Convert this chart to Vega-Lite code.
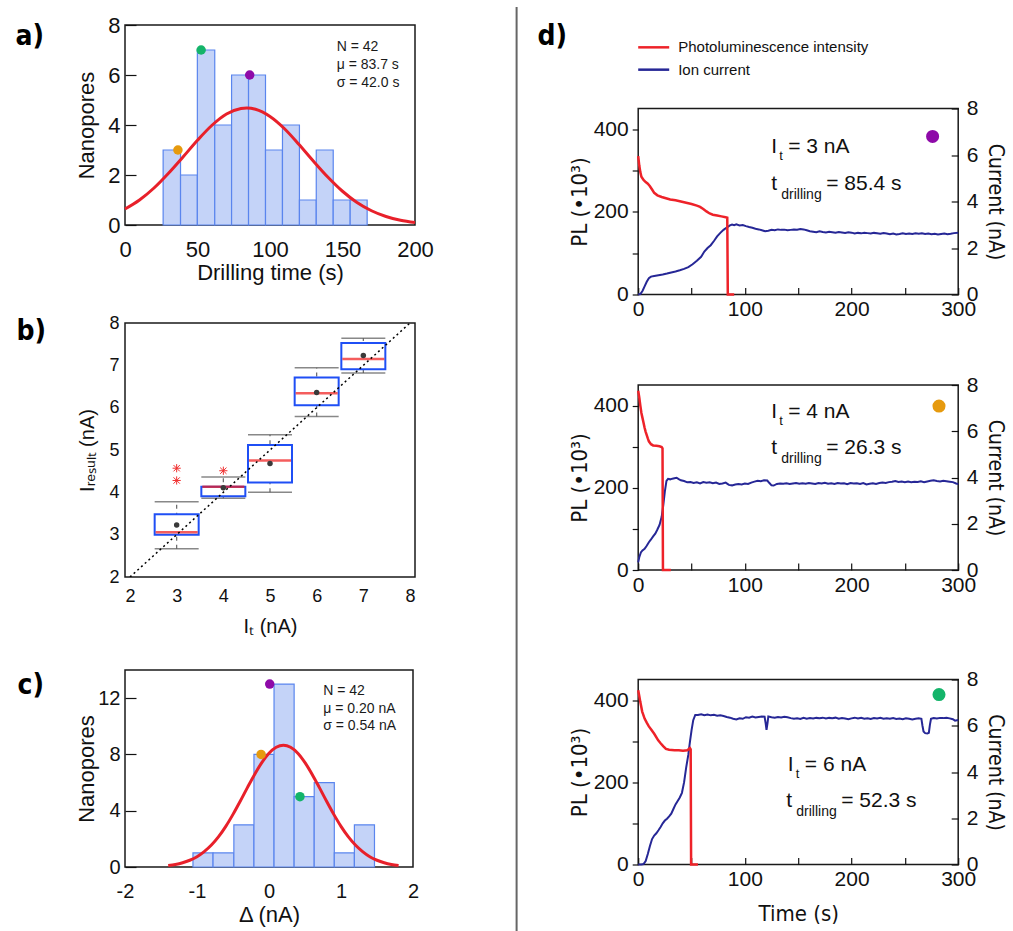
{
"$schema": "https://vega.github.io/schema/vega-lite/v6.json",
"padding": {"left": 14, "top": 5, "right": 0, "bottom": 0},
"config": {
  "font": "Liberation Sans",
  "view": {"stroke": "#1a1a1a", "strokeWidth": 1.5},
  "axis": {"domain": false, "grid": false, "labelColor": "#111", "titleColor": "#111", "titleFontWeight": "normal", "tickColor": "#111", "tickWidth": 1.2, "labelFont": "Liberation Sans", "titleFont": "Liberation Sans"}
},
"resolve": {"scale": {"color": "independent"}, "legend": {"color": "independent"}},
"spacing": 19.6,
"hconcat": [
{
 "spacing": 29,
 "vconcat": [
  {
   "width": 290, "height": 200,
   "title": {"text": "a)", "orient": "left", "anchor": "end", "frame": "group", "angle": 0, "align": "left", "baseline": "alphabetic", "dy": 20, "offset": 31, "fontSize": 28, "font": "Liberation Sans Narrow, DejaVu Sans Condensed, Liberation Sans", "fontWeight": "bold", "color": "black"},
   "layer": [
    {"data": {"values": [
      {"x0": 26.3, "x1": 38.3, "n": 3}, {"x0": 38.3, "x1": 49.9, "n": 2}, {"x0": 49.9, "x1": 61.9, "n": 7},
      {"x0": 61.9, "x1": 73.5, "n": 4}, {"x0": 73.5, "x1": 85.2, "n": 6}, {"x0": 85.2, "x1": 96.9, "n": 6},
      {"x0": 96.9, "x1": 108.6, "n": 3}, {"x0": 108.6, "x1": 120.3, "n": 4}, {"x0": 120.3, "x1": 131.9, "n": 1},
      {"x0": 131.9, "x1": 143.6, "n": 3}, {"x0": 143.6, "x1": 155.3, "n": 1}, {"x0": 155.3, "x1": 167, "n": 1}]},
     "mark": {"type": "bar", "fill": "#c4d3f8", "stroke": "#5a85ee", "strokeWidth": 1.2},
     "encoding": {
      "x": {"field": "x0", "type": "quantitative", "scale": {"domain": [0, 200], "nice": false},
            "axis": {"values": [0, 50, 100, 150, 200], "ticks": false, "labelFontSize": 22, "labelPadding": 14, "labelFlush": false, "title": "Drilling time (s)", "titleFontSize": 22, "titlePadding": 2}},
      "x2": {"field": "x1"},
      "y": {"field": "n", "type": "quantitative", "scale": {"domain": [0, 8], "nice": false},
            "axis": {"values": [0, 1, 2, 3, 4, 5, 6, 7, 8], "labelExpr": "datum.value % 2 === 0 ? datum.label : ''", "tickSize": {"condition": {"test": "datum.value % 2 === 0", "value": -11}, "value": -6}, "labelPadding": 16, "labelFontSize": 22, "title": "Nanopores", "titleFontSize": 22, "titlePadding": 7, "minExtent": 20, "maxExtent": 20}},
      "y2": {"datum": 0}
     }},
    {"data": {"values": [
      {"x": 0, "y": 0.64}, {"x": 10, "y": 1.0}, {"x": 20, "y": 1.48}, {"x": 30, "y": 2.07}, {"x": 40, "y": 2.72},
      {"x": 50, "y": 3.39}, {"x": 60, "y": 3.99}, {"x": 70, "y": 4.44}, {"x": 80, "y": 4.66}, {"x": 84, "y": 4.68},
      {"x": 90, "y": 4.63}, {"x": 100, "y": 4.34}, {"x": 110, "y": 3.85}, {"x": 120, "y": 3.22}, {"x": 130, "y": 2.55},
      {"x": 140, "y": 1.91}, {"x": 150, "y": 1.35}, {"x": 160, "y": 0.9}, {"x": 170, "y": 0.57}, {"x": 180, "y": 0.34},
      {"x": 190, "y": 0.19}, {"x": 200, "y": 0.1}]},
     "mark": {"type": "line", "color": "#e8202a", "strokeWidth": 3, "interpolate": "monotone"},
     "encoding": {"x": {"field": "x", "type": "quantitative"}, "y": {"field": "y", "type": "quantitative"}}},
    {"data": {"values": [{"t": 86, "n": 6, "It": "3 nA"}, {"t": 36.5, "n": 3, "It": "4 nA"}, {"t": 52.5, "n": 7, "It": "6 nA"}]},
     "mark": {"type": "circle", "size": 90, "opacity": 1},
     "encoding": {"x": {"field": "t", "type": "quantitative"}, "y": {"field": "n", "type": "quantitative"},
      "color": {"field": "It", "type": "nominal", "scale": {"domain": ["3 nA", "4 nA", "6 nA"], "range": ["#8e0aa8", "#e69a0e", "#14b46a"]}, "legend": null}}},
    {"data": {"values": [{"x": 146, "y": 7.11, "label": "N = 42"}, {"x": 146, "y": 6.4, "label": "μ = 83.7 s"}, {"x": 146, "y": 5.69, "label": "σ = 42.0 s"}]},
     "mark": {"type": "text", "align": "left", "baseline": "middle", "fontSize": 14, "color": "#1a1a1a"},
     "encoding": {"x": {"field": "x", "type": "quantitative"}, "y": {"field": "y", "type": "quantitative"}, "text": {"field": "label"}}}
   ]
  },
  {
   "spacing": 32,
   "vconcat": [
    {
     "width": 290, "height": 254,
     "title": {"text": "b)", "orient": "left", "anchor": "end", "frame": "group", "angle": 0, "align": "left", "baseline": "alphabetic", "dy": 17, "offset": 31, "fontSize": 28, "font": "Liberation Sans Narrow, DejaVu Sans Condensed, Liberation Sans", "fontWeight": "bold", "color": "black"},
     "layer": [
      {"data": {"name": "boxes", "values": [
        {"It": 3, "lo": 2.67, "q1": 3.0, "med": 3.06, "q3": 3.48, "hi": 3.78, "mean": 3.23},
        {"It": 4, "lo": 3.86, "q1": 3.91, "med": 4.13, "q3": 4.13, "hi": 4.36, "mean": 4.11},
        {"It": 5, "lo": 4.0, "q1": 4.23, "med": 4.75, "q3": 5.12, "hi": 5.36, "mean": 4.68},
        {"It": 6, "lo": 5.79, "q1": 6.06, "med": 6.34, "q3": 6.71, "hi": 6.94, "mean": 6.36},
        {"It": 7, "lo": 6.82, "q1": 6.91, "med": 7.15, "q3": 7.53, "hi": 7.64, "mean": 7.23}]},
       "mark": {"type": "rule", "color": "#666", "strokeDash": [4, 4], "strokeWidth": 1.2},
       "encoding": {
        "x": {"field": "It", "type": "quantitative", "scale": {"domain": [2, 8], "nice": false},
              "axis": {"values": [2, 3, 4, 5, 6, 7, 8], "ticks": false, "labelFontSize": 18, "labelPadding": 10, "labelFlush": false, "title": "Iₜ (nA)", "titleFontSize": 20, "titlePadding": 11}},
        "y": {"field": "lo", "type": "quantitative", "scale": {"domain": [2, 8], "nice": false},
              "axis": {"values": [2, 3, 4, 5, 6, 7, 8], "ticks": false, "labelFontSize": 18, "labelPadding": 6, "title": "Iᵣₑₛᵤₗₜ (nA)", "titleFontSize": 20, "titlePadding": 8, "minExtent": 20, "maxExtent": 20}},
        "y2": {"field": "hi"}
       }},
      {"data": {"name": "boxes"}, "mark": {"type": "tick", "orient": "horizontal", "size": 44, "thickness": 1.5, "color": "#555"},
       "encoding": {"x": {"field": "It", "type": "quantitative"}, "y": {"field": "lo", "type": "quantitative"}}},
      {"data": {"name": "boxes"}, "mark": {"type": "tick", "orient": "horizontal", "size": 44, "thickness": 1.5, "color": "#555"},
       "encoding": {"x": {"field": "It", "type": "quantitative"}, "y": {"field": "hi", "type": "quantitative"}}},
      {"data": {"name": "boxes"}, "mark": {"type": "bar", "width": 44, "fill": "white", "stroke": "#1f4ff5", "strokeWidth": 2},
       "encoding": {"x": {"field": "It", "type": "quantitative"}, "y": {"field": "q1", "type": "quantitative"}, "y2": {"field": "q3"}}},
      {"data": {"name": "boxes"}, "mark": {"type": "tick", "orient": "horizontal", "size": 42, "thickness": 2.5, "color": "#f01818"},
       "encoding": {"x": {"field": "It", "type": "quantitative"}, "y": {"field": "med", "type": "quantitative"}}},
      {"data": {"values": [{"x": 2, "y": 2}, {"x": 8, "y": 8}]}, "mark": {"type": "line", "color": "black", "strokeDash": [2, 3], "strokeWidth": 1.5, "clip": true},
       "encoding": {"x": {"field": "x", "type": "quantitative"}, "y": {"field": "y", "type": "quantitative"}}},
      {"data": {"name": "boxes"}, "mark": {"type": "circle", "size": 30, "color": "#3a3a3a", "opacity": 1},
       "encoding": {"x": {"field": "It", "type": "quantitative"}, "y": {"field": "mean", "type": "quantitative"}}},
      {"data": {"values": [{"It": 3, "v": 4.57}, {"It": 3, "v": 4.28}, {"It": 4, "v": 4.51}]},
       "mark": {"type": "point", "shape": "M-1,-1L1,1M-1,1L1,-1M0,-1.3L0,1.3M-1.3,0L1.3,0", "size": 40, "color": "#f03030", "strokeWidth": 1, "filled": false, "opacity": 1},
       "encoding": {"x": {"field": "It", "type": "quantitative"}, "y": {"field": "v", "type": "quantitative"}}}
     ]
    },
    {
     "width": 288, "height": 197,
     "title": {"text": "c)", "orient": "left", "anchor": "end", "frame": "group", "angle": 0, "align": "left", "baseline": "alphabetic", "dy": 24, "offset": 31, "fontSize": 28, "font": "Liberation Sans Narrow, DejaVu Sans Condensed, Liberation Sans", "fontWeight": "bold", "color": "black"},
     "layer": [
      {"data": {"values": [
        {"x0": -1.056, "x1": -0.777, "n": 1}, {"x0": -0.777, "x1": -0.488, "n": 1}, {"x0": -0.488, "x1": -0.209, "n": 3},
        {"x0": -0.209, "x1": 0.07, "n": 8}, {"x0": 0.07, "x1": 0.349, "n": 13}, {"x0": 0.349, "x1": 0.628, "n": 5},
        {"x0": 0.628, "x1": 0.907, "n": 6}, {"x0": 0.907, "x1": 1.186, "n": 1}, {"x0": 1.186, "x1": 1.465, "n": 3}]},
       "mark": {"type": "bar", "fill": "#c4d3f8", "stroke": "#5a85ee", "strokeWidth": 1.2},
       "encoding": {
        "x": {"field": "x0", "type": "quantitative", "scale": {"domain": [-2, 2], "nice": false},
              "axis": {"values": [-2, -1, 0, 1, 2], "labelExpr": "'' + datum.value", "ticks": false, "labelFontSize": 20, "labelPadding": 14, "labelFlush": false, "title": "Δ (nA)", "titleFontSize": 22, "titlePadding": 3}},
        "x2": {"field": "x1"},
        "y": {"field": "n", "type": "quantitative", "scale": {"domain": [0, 14], "nice": false},
              "axis": {"values": [0, 2, 4, 6, 8, 10, 12, 14], "labelExpr": "datum.value % 4 === 0 ? datum.label : ''", "tickSize": {"condition": {"test": "datum.value % 4 === 0", "value": -11}, "value": -6}, "labelPadding": 16, "labelFontSize": 20, "title": "Nanopores", "titleFontSize": 22, "titlePadding": 7, "minExtent": 20, "maxExtent": 20}},
        "y2": {"datum": 0}
       }},
      {"data": {"values": [
        {"x": -1.4, "y": 0.11}, {"x": -1.3, "y": 0.18}, {"x": -1.2, "y": 0.3}, {"x": -1.1, "y": 0.48}, {"x": -1.0, "y": 0.73},
        {"x": -0.9, "y": 1.09}, {"x": -0.8, "y": 1.56}, {"x": -0.7, "y": 2.16}, {"x": -0.6, "y": 2.89}, {"x": -0.5, "y": 3.74},
        {"x": -0.4, "y": 4.67}, {"x": -0.3, "y": 5.64}, {"x": -0.2, "y": 6.58}, {"x": -0.1, "y": 7.42}, {"x": 0.0, "y": 8.09},
        {"x": 0.1, "y": 8.51}, {"x": 0.2, "y": 8.66}, {"x": 0.3, "y": 8.51}, {"x": 0.4, "y": 8.09}, {"x": 0.5, "y": 7.42},
        {"x": 0.6, "y": 6.58}, {"x": 0.7, "y": 5.64}, {"x": 0.8, "y": 4.67}, {"x": 0.9, "y": 3.74}, {"x": 1.0, "y": 2.89},
        {"x": 1.1, "y": 2.16}, {"x": 1.2, "y": 1.56}, {"x": 1.3, "y": 1.09}, {"x": 1.4, "y": 0.73}, {"x": 1.5, "y": 0.48},
        {"x": 1.6, "y": 0.3}, {"x": 1.7, "y": 0.18}, {"x": 1.8, "y": 0.11}]},
       "mark": {"type": "line", "color": "#e8202a", "strokeWidth": 3, "interpolate": "monotone"},
       "encoding": {"x": {"field": "x", "type": "quantitative"}, "y": {"field": "y", "type": "quantitative"}}},
      {"data": {"values": [{"d": 0.01, "n": 13, "It": "3 nA"}, {"d": -0.11, "n": 8, "It": "4 nA"}, {"d": 0.43, "n": 5, "It": "6 nA"}]},
       "mark": {"type": "circle", "size": 90, "opacity": 1},
       "encoding": {"x": {"field": "d", "type": "quantitative"}, "y": {"field": "n", "type": "quantitative"},
        "color": {"field": "It", "type": "nominal", "scale": {"domain": ["3 nA", "4 nA", "6 nA"], "range": ["#8e0aa8", "#e69a0e", "#14b46a"]}, "legend": null}}},
      {"data": {"values": [{"x": 0.753, "y": 12.54, "label": "N = 42"}, {"x": 0.753, "y": 11.22, "label": "μ = 0.20 nA"}, {"x": 0.753, "y": 9.99, "label": "σ = 0.54 nA"}]},
       "mark": {"type": "text", "align": "left", "baseline": "middle", "fontSize": 14, "color": "#1a1a1a"},
       "encoding": {"x": {"field": "x", "type": "quantitative"}, "y": {"field": "y", "type": "quantitative"}, "text": {"field": "label"}}}
     ]
    }
   ]
  }
 ]
},
{
 "width": 62, "height": 908,
 "view": {"stroke": null},
 "data": {"values": [{}]},
 "mark": {"type": "rule", "color": "#666", "strokeWidth": 2},
 "encoding": {
  "x": {"datum": 1, "type": "quantitative", "scale": {"domain": [0, 1]}, "axis": null},
  "y": {"datum": 926, "type": "quantitative", "scale": {"domain": [0, 908], "nice": false}, "axis": null},
  "y2": {"datum": 0}
 }
},
{
 "spacing": 4.5,
 "vconcat": [
  {
   "width": 320, "height": 67,
   "view": {"stroke": null},
   "title": {"text": "d)", "orient": "left", "anchor": "end", "frame": "group", "angle": 0, "align": "left", "baseline": "alphabetic", "dy": 20, "offset": 70, "fontSize": 28, "font": "Liberation Sans Narrow, DejaVu Sans Condensed, Liberation Sans", "fontWeight": "bold", "color": "black"},
   "data": {"values": [{"s": "Photoluminescence intensity"}, {"s": "Ion current"}]},
   "layer": [
    {"mark": {"type": "rule", "strokeWidth": 2.5},
     "encoding": {
      "x": {"datum": 0, "type": "quantitative", "scale": {"domain": [0, 320], "nice": false}, "axis": null},
      "x2": {"datum": 31},
      "y": {"field": "s", "type": "nominal", "sort": null, "scale": {"type": "point", "domain": ["Photoluminescence intensity", "Ion current"], "padding": 1.095}, "axis": null},
      "color": {"field": "s", "type": "nominal", "scale": {"domain": ["Photoluminescence intensity", "Ion current"], "range": ["#ee2229", "#262796"]}, "legend": null}
     }},
    {"mark": {"type": "text", "align": "left", "baseline": "middle", "fontSize": 15, "color": "#111"},
     "encoding": {
      "x": {"datum": 40, "type": "quantitative"},
      "y": {"field": "s", "type": "nominal", "sort": null},
      "text": {"field": "s"}
     }}
   ]
  },
  {
   "spacing": 52.5,
   "vconcat": [
    {
     "width": 320, "height": 186,
     "resolve": {"scale": {"y": "independent"}},
     "layer": [
      {
       "layer": [
        {"data": {"values": [
          {"t":0,"v":0},{"t":2,"v":0.02},{"t":4,"v":0.15},{"t":6,"v":0.35},{"t":8,"v":0.55},{"t":10,"v":0.7},{"t":12,"v":0.77},{"t":15,"v":0.8},{"t":19,"v":0.83},{"t":23,"v":0.86},{"t":27,"v":0.9},{"t":31,"v":0.95},{"t":35,"v":0.99},{"t":39,"v":1.04},{"t":43,"v":1.1},{"t":47,"v":1.18},{"t":51,"v":1.3},{"t":55,"v":1.45},{"t":59,"v":1.62},{"t":62,"v":1.85},{"t":65,"v":2.0},{"t":68,"v":2.12},{"t":71,"v":2.3},{"t":74,"v":2.5},{"t":77,"v":2.65},{"t":80,"v":2.78},{"t":83,"v":2.88},{"t":86,"v":2.97},{"t":88,"v":3.01},{"t":90,"v":2.98},{"t":92,"v":3.02},{"t":95,"v":2.97},{"t":98,"v":2.99},{"t":101,"v":2.94},{"t":104,"v":2.9},{"t":107,"v":2.87},{"t":110,"v":2.83},{"t":113,"v":2.8},{"t":116,"v":2.76},{"t":119,"v":2.72},{"t":122,"v":2.74},{"t":125,"v":2.78},{"t":128,"v":2.76},{"t":131,"v":2.8},{"t":134,"v":2.78},{"t":137,"v":2.79},{"t":140,"v":2.76},{"t":143,"v":2.78},{"t":146,"v":2.8},{"t":149,"v":2.79},{"t":152,"v":2.82},{"t":155,"v":2.8},{"t":158,"v":2.76},{"t":161,"v":2.72},{"t":164,"v":2.7},{"t":167,"v":2.68},{"t":170,"v":2.72},{"t":173,"v":2.69},{"t":176,"v":2.67},{"t":179,"v":2.7},{"t":182,"v":2.68},{"t":185,"v":2.66},{"t":188,"v":2.69},{"t":191,"v":2.67},{"t":194,"v":2.65},{"t":197,"v":2.68},{"t":200,"v":2.66},{"t":203,"v":2.62},{"t":206,"v":2.65},{"t":209,"v":2.63},{"t":212,"v":2.66},{"t":215,"v":2.64},{"t":218,"v":2.62},{"t":221,"v":2.65},{"t":224,"v":2.63},{"t":227,"v":2.61},{"t":230,"v":2.64},{"t":233,"v":2.62},{"t":236,"v":2.59},{"t":239,"v":2.62},{"t":242,"v":2.58},{"t":245,"v":2.6},{"t":248,"v":2.63},{"t":251,"v":2.6},{"t":254,"v":2.62},{"t":257,"v":2.6},{"t":260,"v":2.63},{"t":263,"v":2.61},{"t":266,"v":2.63},{"t":269,"v":2.6},{"t":272,"v":2.62},{"t":275,"v":2.59},{"t":278,"v":2.61},{"t":281,"v":2.58},{"t":284,"v":2.6},{"t":287,"v":2.62},{"t":290,"v":2.59},{"t":293,"v":2.61},{"t":296,"v":2.64},{"t":300,"v":2.66}]},
         "mark": {"type": "line", "strokeWidth": 2, "color": "#262796"},
         "encoding": {
          "x": {"field": "t", "type": "quantitative", "scale": {"domain": [0, 300], "nice": false},
                "axis": {"values": [0, 50, 100, 150, 200, 250, 300], "labelExpr": "datum.value % 100 === 0 ? datum.label : ''", "tickSize": -7, "labelPadding": 11, "labelFontSize": 21, "labelFlush": false, "title": null}},
          "y": {"field": "v", "type": "quantitative", "scale": {"domain": [0, 8], "nice": false},
                "axis": {"orient": "right", "values": [0, 2, 4, 6, 8], "tickSize": -7, "labelPadding": 15, "labelFontSize": 21, "minExtent": 20, "maxExtent": 20, "title": "Current (nA)", "titleFont": "Liberation Sans Narrow, DejaVu Sans Condensed, Liberation Sans", "titleFontSize": 21, "titlePadding": 6}}
         }},
        {"data": {"values": [{"t": 276, "v": 6.8}]}, "mark": {"type": "circle", "size": 170, "color": "#8e0aa8", "opacity": 1},
         "encoding": {"x": {"field": "t", "type": "quantitative"}, "y": {"field": "v", "type": "quantitative"}}},
        {"data": {"values": [{"t": 124.7, "v": 6.08}]}, "mark": {"type": "text", "align": "left", "baseline": "alphabetic", "fontSize": 21, "color": "#111"},
         "encoding": {"x": {"field": "t", "type": "quantitative"}, "y": {"field": "v", "type": "quantitative"}, "text": {"value": "I"}}},
        {"data": {"values": [{"t": 124.7, "v": 6.08}]}, "mark": {"type": "text", "align": "left", "baseline": "alphabetic", "fontSize": 13, "dx": 8, "dy": 7, "color": "#111"},
         "encoding": {"x": {"field": "t", "type": "quantitative"}, "y": {"field": "v", "type": "quantitative"}, "text": {"value": "t"}}},
        {"data": {"values": [{"t": 124.7, "v": 6.08}]}, "mark": {"type": "text", "align": "left", "baseline": "alphabetic", "fontSize": 21, "dx": 17, "color": "#111"},
         "encoding": {"x": {"field": "t", "type": "quantitative"}, "y": {"field": "v", "type": "quantitative"}, "text": {"value": "= 3 nA"}}},
        {"data": {"values": [{"t": 124.7, "v": 4.5}]}, "mark": {"type": "text", "align": "left", "baseline": "alphabetic", "fontSize": 21, "color": "#111"},
         "encoding": {"x": {"field": "t", "type": "quantitative"}, "y": {"field": "v", "type": "quantitative"}, "text": {"value": "t"}}},
        {"data": {"values": [{"t": 124.7, "v": 4.5}]}, "mark": {"type": "text", "align": "left", "baseline": "alphabetic", "fontSize": 14, "dx": 10, "dy": 9, "color": "#111"},
         "encoding": {"x": {"field": "t", "type": "quantitative"}, "y": {"field": "v", "type": "quantitative"}, "text": {"value": "drilling"}}},
        {"data": {"values": [{"t": 124.7, "v": 4.5}]}, "mark": {"type": "text", "align": "left", "baseline": "alphabetic", "fontSize": 21, "dx": 55, "color": "#111"},
         "encoding": {"x": {"field": "t", "type": "quantitative"}, "y": {"field": "v", "type": "quantitative"}, "text": {"value": "= 85.4 s"}}}
       ]
      },
      {"data": {"values": [
        {"t":0,"v":335},{"t":1,"v":312},{"t":2,"v":296},{"t":3,"v":285},{"t":5,"v":277},{"t":7,"v":272},{"t":9,"v":268},{"t":11,"v":262},{"t":13,"v":254},{"t":15,"v":246},{"t":18,"v":240},{"t":22,"v":236},{"t":26,"v":233},{"t":30,"v":230},{"t":35,"v":228},{"t":40,"v":225},{"t":45,"v":222},{"t":50,"v":219},{"t":55,"v":215},{"t":58,"v":212},{"t":61,"v":207},{"t":64,"v":201},{"t":67,"v":196},{"t":70,"v":193},{"t":74,"v":191},{"t":78,"v":189},{"t":82,"v":187},{"t":83.5,"v":186},{"t":84,"v":0},{"t":90,"v":0}]},
       "mark": {"type": "line", "strokeWidth": 2.5, "color": "#ee2229"},
       "encoding": {
        "x": {"field": "t", "type": "quantitative"},
        "y": {"field": "v", "type": "quantitative", "scale": {"domain": [0, 450], "nice": false},
              "axis": {"orient": "left", "values": [0, 100, 200, 300, 400], "labelExpr": "datum.value % 200 === 0 ? datum.label : ''", "tickSize": 6, "labelPadding": 4, "labelFontSize": 21, "minExtent": 45, "maxExtent": 45, "title": "PL (•10³)", "titleFont": "Liberation Sans Narrow, DejaVu Sans Condensed, Liberation Sans", "titleFontSize": 22, "titlePadding": 2}}
       }}
     ]
    },
    {
     "spacing": 71.5,
     "vconcat": [
      {
       "width": 320, "height": 185,
       "resolve": {"scale": {"y": "independent"}},
       "layer": [
        {
         "layer": [
          {"data": {"values": [
            {"t":0,"v":0.33},{"t":1,"v":0.55},{"t":2.5,"v":0.76},{"t":4,"v":0.85},{"t":6,"v":0.92},{"t":8,"v":1.05},{"t":10,"v":1.2},{"t":12,"v":1.32},{"t":14,"v":1.45},{"t":16,"v":1.57},{"t":18,"v":1.75},{"t":20,"v":1.95},{"t":22,"v":2.3},{"t":23.5,"v":2.8},{"t":25,"v":3.4},{"t":26.5,"v":3.85},{"t":28,"v":3.94},{"t":30,"v":3.92},{"t":32,"v":3.95},{"t":34,"v":3.97},{"t":36,"v":3.99},{"t":38,"v":3.93},{"t":40,"v":3.88},{"t":43,"v":3.85},{"t":46,"v":3.79},{"t":49,"v":3.8},{"t":52,"v":3.76},{"t":55,"v":3.79},{"t":58,"v":3.74},{"t":61,"v":3.8},{"t":64,"v":3.77},{"t":67,"v":3.79},{"t":70,"v":3.75},{"t":73,"v":3.78},{"t":76,"v":3.72},{"t":79,"v":3.74},{"t":82,"v":3.78},{"t":85,"v":3.68},{"t":88,"v":3.66},{"t":91,"v":3.7},{"t":94,"v":3.72},{"t":97,"v":3.7},{"t":100,"v":3.74},{"t":103,"v":3.72},{"t":106,"v":3.78},{"t":109,"v":3.82},{"t":112,"v":3.86},{"t":115,"v":3.84},{"t":118,"v":3.88},{"t":121,"v":3.87},{"t":123,"v":3.76},{"t":125,"v":3.66},{"t":127,"v":3.65},{"t":130,"v":3.72},{"t":133,"v":3.74},{"t":136,"v":3.73},{"t":139,"v":3.75},{"t":142,"v":3.72},{"t":145,"v":3.74},{"t":148,"v":3.76},{"t":151,"v":3.73},{"t":154,"v":3.75},{"t":157,"v":3.73},{"t":160,"v":3.76},{"t":163,"v":3.74},{"t":166,"v":3.72},{"t":169,"v":3.76},{"t":172,"v":3.74},{"t":175,"v":3.77},{"t":178,"v":3.73},{"t":181,"v":3.75},{"t":184,"v":3.72},{"t":187,"v":3.76},{"t":190,"v":3.74},{"t":193,"v":3.75},{"t":196,"v":3.71},{"t":199,"v":3.76},{"t":202,"v":3.74},{"t":205,"v":3.75},{"t":208,"v":3.72},{"t":211,"v":3.76},{"t":214,"v":3.7},{"t":217,"v":3.73},{"t":220,"v":3.75},{"t":223,"v":3.72},{"t":226,"v":3.76},{"t":229,"v":3.78},{"t":232,"v":3.76},{"t":235,"v":3.8},{"t":238,"v":3.82},{"t":241,"v":3.85},{"t":244,"v":3.81},{"t":247,"v":3.83},{"t":250,"v":3.8},{"t":253,"v":3.83},{"t":256,"v":3.8},{"t":259,"v":3.82},{"t":262,"v":3.81},{"t":265,"v":3.84},{"t":268,"v":3.8},{"t":271,"v":3.83},{"t":274,"v":3.86},{"t":277,"v":3.88},{"t":280,"v":3.85},{"t":283,"v":3.83},{"t":286,"v":3.86},{"t":289,"v":3.84},{"t":292,"v":3.82},{"t":295,"v":3.8},{"t":298,"v":3.74},{"t":300,"v":3.72}]},
           "mark": {"type": "line", "strokeWidth": 2, "color": "#262796"},
           "encoding": {
            "x": {"field": "t", "type": "quantitative", "scale": {"domain": [0, 300], "nice": false},
                  "axis": {"values": [0, 50, 100, 150, 200, 250, 300], "labelExpr": "datum.value % 100 === 0 ? datum.label : ''", "tickSize": -7, "labelPadding": 11, "labelFontSize": 21, "labelFlush": false, "title": null}},
            "y": {"field": "v", "type": "quantitative", "scale": {"domain": [0, 8], "nice": false},
                  "axis": {"orient": "right", "values": [0, 2, 4, 6, 8], "tickSize": -7, "labelPadding": 15, "labelFontSize": 21, "minExtent": 20, "maxExtent": 20, "title": "Current (nA)", "titleFont": "Liberation Sans Narrow, DejaVu Sans Condensed, Liberation Sans", "titleFontSize": 21, "titlePadding": 6}}
           }},
          {"data": {"values": [{"t": 282, "v": 7.09}]}, "mark": {"type": "circle", "size": 170, "color": "#e69a0e", "opacity": 1},
           "encoding": {"x": {"field": "t", "type": "quantitative"}, "y": {"field": "v", "type": "quantitative"}}},
          {"data": {"values": [{"t": 124.7, "v": 6.59}]}, "mark": {"type": "text", "align": "left", "baseline": "alphabetic", "fontSize": 21, "color": "#111"},
           "encoding": {"x": {"field": "t", "type": "quantitative"}, "y": {"field": "v", "type": "quantitative"}, "text": {"value": "I"}}},
          {"data": {"values": [{"t": 124.7, "v": 6.59}]}, "mark": {"type": "text", "align": "left", "baseline": "alphabetic", "fontSize": 13, "dx": 8, "dy": 7, "color": "#111"},
           "encoding": {"x": {"field": "t", "type": "quantitative"}, "y": {"field": "v", "type": "quantitative"}, "text": {"value": "t"}}},
          {"data": {"values": [{"t": 124.7, "v": 6.59}]}, "mark": {"type": "text", "align": "left", "baseline": "alphabetic", "fontSize": 21, "dx": 17, "color": "#111"},
           "encoding": {"x": {"field": "t", "type": "quantitative"}, "y": {"field": "v", "type": "quantitative"}, "text": {"value": "= 4 nA"}}},
          {"data": {"values": [{"t": 124.7, "v": 5.0}]}, "mark": {"type": "text", "align": "left", "baseline": "alphabetic", "fontSize": 21, "color": "#111"},
           "encoding": {"x": {"field": "t", "type": "quantitative"}, "y": {"field": "v", "type": "quantitative"}, "text": {"value": "t"}}},
          {"data": {"values": [{"t": 124.7, "v": 5.0}]}, "mark": {"type": "text", "align": "left", "baseline": "alphabetic", "fontSize": 14, "dx": 10, "dy": 9, "color": "#111"},
           "encoding": {"x": {"field": "t", "type": "quantitative"}, "y": {"field": "v", "type": "quantitative"}, "text": {"value": "drilling"}}},
          {"data": {"values": [{"t": 124.7, "v": 5.0}]}, "mark": {"type": "text", "align": "left", "baseline": "alphabetic", "fontSize": 21, "dx": 55, "color": "#111"},
           "encoding": {"x": {"field": "t", "type": "quantitative"}, "y": {"field": "v", "type": "quantitative"}, "text": {"value": "= 26.3 s"}}}
         ]
        },
        {"data": {"values": [
          {"t":0,"v":436},{"t":1,"v":420},{"t":2,"v":400},{"t":3,"v":382},{"t":4,"v":370},{"t":5,"v":358},{"t":6,"v":346},{"t":7,"v":336},{"t":8,"v":328},{"t":9,"v":320},{"t":10,"v":313},{"t":12,"v":306},{"t":14,"v":303},{"t":17,"v":302},{"t":20,"v":301},{"t":22,"v":299},{"t":22.8,"v":296},{"t":23.2,"v":0},{"t":30.6,"v":0}]},
         "mark": {"type": "line", "strokeWidth": 2.5, "color": "#ee2229"},
         "encoding": {
          "x": {"field": "t", "type": "quantitative"},
          "y": {"field": "v", "type": "quantitative", "scale": {"domain": [0, 450], "nice": false},
                "axis": {"orient": "left", "values": [0, 100, 200, 300, 400], "labelExpr": "datum.value % 200 === 0 ? datum.label : ''", "tickSize": 6, "labelPadding": 4, "labelFontSize": 21, "minExtent": 45, "maxExtent": 45, "title": "PL (•10³)", "titleFont": "Liberation Sans Narrow, DejaVu Sans Condensed, Liberation Sans", "titleFontSize": 22, "titlePadding": 2}}
         }}
       ]
      },
      {
       "width": 320, "height": 185,
       "resolve": {"scale": {"y": "independent"}},
       "layer": [
        {
         "layer": [
          {"data": {"values": [
            {"t":0,"v":0},{"t":3,"v":0},{"t":5,"v":0.02},{"t":7,"v":0.15},{"t":9,"v":0.45},{"t":11,"v":0.8},{"t":13,"v":1.1},{"t":15,"v":1.25},{"t":17,"v":1.35},{"t":19,"v":1.48},{"t":21,"v":1.62},{"t":23,"v":1.78},{"t":25,"v":1.9},{"t":27,"v":1.98},{"t":29,"v":2.08},{"t":31,"v":2.2},{"t":33,"v":2.4},{"t":35,"v":2.6},{"t":37,"v":2.75},{"t":39,"v":2.9},{"t":41,"v":3.1},{"t":43,"v":3.55},{"t":45,"v":4.2},{"t":47,"v":4.75},{"t":48.5,"v":5.3},{"t":50,"v":5.8},{"t":51.6,"v":6.24},{"t":53.5,"v":6.47},{"t":56,"v":6.47},{"t":59,"v":6.5},{"t":62,"v":6.46},{"t":65,"v":6.49},{"t":68,"v":6.45},{"t":71,"v":6.47},{"t":74,"v":6.43},{"t":77,"v":6.45},{"t":80,"v":6.42},{"t":83,"v":6.38},{"t":86,"v":6.35},{"t":89,"v":6.3},{"t":92,"v":6.27},{"t":95,"v":6.32},{"t":98,"v":6.3},{"t":101,"v":6.37},{"t":104,"v":6.35},{"t":107,"v":6.4},{"t":110,"v":6.36},{"t":113,"v":6.38},{"t":116,"v":6.4},{"t":118.5,"v":6.39},{"t":119.5,"v":6.1},{"t":120.3,"v":5.82},{"t":121.2,"v":6.1},{"t":122,"v":6.4},{"t":125,"v":6.37},{"t":128,"v":6.35},{"t":131,"v":6.38},{"t":134,"v":6.36},{"t":137,"v":6.39},{"t":140,"v":6.37},{"t":143,"v":6.33},{"t":146,"v":6.3},{"t":149,"v":6.32},{"t":152,"v":6.29},{"t":155,"v":6.34},{"t":158,"v":6.3},{"t":161,"v":6.33},{"t":164,"v":6.31},{"t":167,"v":6.34},{"t":170,"v":6.32},{"t":173,"v":6.35},{"t":176,"v":6.31},{"t":179,"v":6.34},{"t":182,"v":6.32},{"t":185,"v":6.35},{"t":188,"v":6.3},{"t":191,"v":6.33},{"t":194,"v":6.31},{"t":197,"v":6.28},{"t":200,"v":6.32},{"t":203,"v":6.35},{"t":206,"v":6.31},{"t":209,"v":6.34},{"t":212,"v":6.3},{"t":215,"v":6.32},{"t":218,"v":6.29},{"t":221,"v":6.33},{"t":224,"v":6.31},{"t":227,"v":6.34},{"t":230,"v":6.3},{"t":233,"v":6.32},{"t":236,"v":6.3},{"t":239,"v":6.33},{"t":242,"v":6.29},{"t":245,"v":6.31},{"t":248,"v":6.28},{"t":251,"v":6.32},{"t":254,"v":6.3},{"t":257,"v":6.27},{"t":260,"v":6.3},{"t":263,"v":6.32},{"t":265.5,"v":6.3},{"t":266.5,"v":6.0},{"t":267.5,"v":5.75},{"t":269,"v":5.68},{"t":271,"v":5.67},{"t":272.5,"v":5.7},{"t":273.5,"v":6.05},{"t":274.5,"v":6.3},{"t":277,"v":6.33},{"t":280,"v":6.31},{"t":283,"v":6.34},{"t":286,"v":6.33},{"t":289,"v":6.35},{"t":292,"v":6.32},{"t":295,"v":6.28},{"t":297,"v":6.22},{"t":300,"v":6.25}]},
           "mark": {"type": "line", "strokeWidth": 2, "color": "#262796"},
           "encoding": {
            "x": {"field": "t", "type": "quantitative", "scale": {"domain": [0, 300], "nice": false},
                  "axis": {"values": [0, 50, 100, 150, 200, 250, 300], "labelExpr": "datum.value % 100 === 0 ? datum.label : ''", "tickSize": -7, "labelPadding": 11, "labelFontSize": 21, "labelFlush": false, "title": "Time (s)", "titleFont": "Liberation Sans Narrow, DejaVu Sans Condensed, Liberation Sans", "titleFontSize": 22, "titlePadding": 14}},
            "y": {"field": "v", "type": "quantitative", "scale": {"domain": [0, 8], "nice": false},
                  "axis": {"orient": "right", "values": [0, 2, 4, 6, 8], "tickSize": -7, "labelPadding": 15, "labelFontSize": 21, "minExtent": 20, "maxExtent": 20, "title": "Current (nA)", "titleFont": "Liberation Sans Narrow, DejaVu Sans Condensed, Liberation Sans", "titleFontSize": 21, "titlePadding": 6}}
           }},
          {"data": {"values": [{"t": 282, "v": 7.35}]}, "mark": {"type": "circle", "size": 170, "color": "#14b46a", "opacity": 1},
           "encoding": {"x": {"field": "t", "type": "quantitative"}, "y": {"field": "v", "type": "quantitative"}}},
          {"data": {"values": [{"t": 140.3, "v": 4.06}]}, "mark": {"type": "text", "align": "left", "baseline": "alphabetic", "fontSize": 21, "color": "#111"},
           "encoding": {"x": {"field": "t", "type": "quantitative"}, "y": {"field": "v", "type": "quantitative"}, "text": {"value": "I"}}},
          {"data": {"values": [{"t": 140.3, "v": 4.06}]}, "mark": {"type": "text", "align": "left", "baseline": "alphabetic", "fontSize": 13, "dx": 8, "dy": 7, "color": "#111"},
           "encoding": {"x": {"field": "t", "type": "quantitative"}, "y": {"field": "v", "type": "quantitative"}, "text": {"value": "t"}}},
          {"data": {"values": [{"t": 140.3, "v": 4.06}]}, "mark": {"type": "text", "align": "left", "baseline": "alphabetic", "fontSize": 21, "dx": 17, "color": "#111"},
           "encoding": {"x": {"field": "t", "type": "quantitative"}, "y": {"field": "v", "type": "quantitative"}, "text": {"value": "= 6 nA"}}},
          {"data": {"values": [{"t": 138.8, "v": 2.48}]}, "mark": {"type": "text", "align": "left", "baseline": "alphabetic", "fontSize": 21, "color": "#111"},
           "encoding": {"x": {"field": "t", "type": "quantitative"}, "y": {"field": "v", "type": "quantitative"}, "text": {"value": "t"}}},
          {"data": {"values": [{"t": 138.8, "v": 2.48}]}, "mark": {"type": "text", "align": "left", "baseline": "alphabetic", "fontSize": 14, "dx": 10, "dy": 9, "color": "#111"},
           "encoding": {"x": {"field": "t", "type": "quantitative"}, "y": {"field": "v", "type": "quantitative"}, "text": {"value": "drilling"}}},
          {"data": {"values": [{"t": 138.8, "v": 2.48}]}, "mark": {"type": "text", "align": "left", "baseline": "alphabetic", "fontSize": 21, "dx": 55, "color": "#111"},
           "encoding": {"x": {"field": "t", "type": "quantitative"}, "y": {"field": "v", "type": "quantitative"}, "text": {"value": "= 52.3 s"}}}
         ]
        },
        {"data": {"values": [
          {"t":0,"v":424},{"t":1,"v":410},{"t":2,"v":395},{"t":3.75,"v":372},{"t":6,"v":355},{"t":8,"v":345},{"t":10,"v":336},{"t":12.5,"v":327},{"t":15,"v":318},{"t":18.75,"v":302},{"t":21,"v":295},{"t":23.4,"v":288},{"t":26,"v":281},{"t":29,"v":279},{"t":34,"v":278},{"t":38,"v":278},{"t":42,"v":277},{"t":46,"v":278},{"t":48.5,"v":283},{"t":49.2,"v":280},{"t":49.6,"v":0},{"t":56,"v":0}]},
         "mark": {"type": "line", "strokeWidth": 2.5, "color": "#ee2229"},
         "encoding": {
          "x": {"field": "t", "type": "quantitative"},
          "y": {"field": "v", "type": "quantitative", "scale": {"domain": [0, 450], "nice": false},
                "axis": {"orient": "left", "values": [0, 100, 200, 300, 400], "labelExpr": "datum.value % 200 === 0 ? datum.label : ''", "tickSize": 6, "labelPadding": 4, "labelFontSize": 21, "minExtent": 45, "maxExtent": 45, "title": "PL (•10³)", "titleFont": "Liberation Sans Narrow, DejaVu Sans Condensed, Liberation Sans", "titleFontSize": 22, "titlePadding": 2}}
         }}
       ]
      }
     ]
    }
   ]
  }
 ]
}
]
}
